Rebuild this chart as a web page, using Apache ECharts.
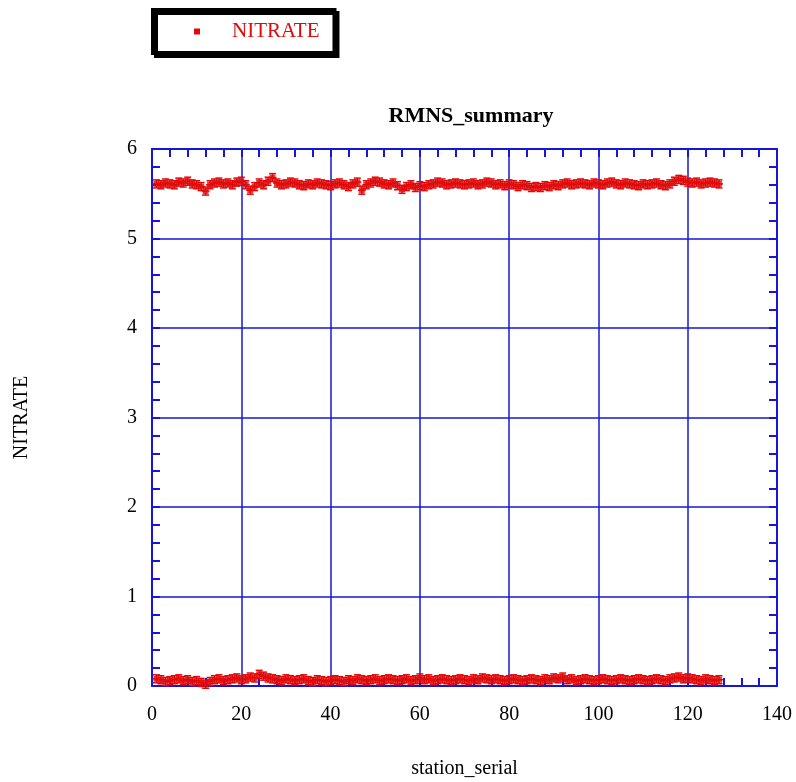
<!DOCTYPE html>
<html>
<head>
<meta charset="utf-8">
<script src="https://cdn.jsdelivr.net/npm/echarts@6/dist/echarts.min.js"></script>
<style>
  html, body { margin: 0; padding: 0; background: #fff; }
  #chart { width: 796px; height: 782px; }
</style>
</head>
<body>
<div id="chart"></div>
<script>
// nitrate at each station: upper band and lower band
const highValues = [
  5.61, 5.60, 5.62, 5.61, 5.60, 5.63, 5.62, 5.64, 5.61, 5.60,
  5.58, 5.53, 5.60, 5.62, 5.63, 5.61, 5.62, 5.60, 5.63, 5.64,
  5.60, 5.54, 5.58, 5.62, 5.60, 5.64, 5.68, 5.62, 5.60, 5.61,
  5.63, 5.62, 5.60, 5.59, 5.61, 5.60, 5.62, 5.61, 5.60, 5.59,
  5.61, 5.62, 5.60, 5.58, 5.61, 5.63, 5.54, 5.60, 5.62, 5.64,
  5.63, 5.61, 5.60, 5.62, 5.59, 5.55, 5.58, 5.60, 5.57, 5.59,
  5.58, 5.60, 5.61, 5.63, 5.62, 5.60, 5.61, 5.62, 5.61, 5.60,
  5.61, 5.62, 5.60, 5.61, 5.63, 5.62, 5.60, 5.61, 5.59, 5.61,
  5.60, 5.58, 5.60, 5.59, 5.57, 5.58, 5.57, 5.59, 5.58, 5.60,
  5.59, 5.61, 5.62, 5.60, 5.61, 5.62, 5.61, 5.60, 5.62, 5.61,
  5.60, 5.62, 5.63, 5.61, 5.60, 5.62, 5.61, 5.60, 5.59, 5.61,
  5.60, 5.61, 5.62, 5.60, 5.59, 5.61, 5.64, 5.66, 5.65, 5.63,
  5.62, 5.63, 5.61, 5.62, 5.63, 5.62, 5.61
]
const lowValues = [
  0.08, 0.07, 0.05, 0.06, 0.07, 0.08, 0.06, 0.07, 0.05, 0.06,
  0.04, 0.02, 0.05, 0.07, 0.08, 0.06, 0.07, 0.08, 0.09, 0.07,
  0.08, 0.10, 0.09, 0.13, 0.11, 0.09, 0.08, 0.07, 0.06, 0.08,
  0.07, 0.06, 0.07, 0.08, 0.06, 0.05, 0.07, 0.06, 0.05, 0.06,
  0.07, 0.06, 0.05, 0.07, 0.06, 0.08, 0.07, 0.06, 0.07, 0.08,
  0.06, 0.07, 0.08, 0.07, 0.06, 0.07, 0.08, 0.06, 0.07, 0.09,
  0.07, 0.08, 0.06, 0.07, 0.08, 0.07, 0.06, 0.07, 0.08, 0.07,
  0.06, 0.08, 0.07, 0.09, 0.08, 0.07, 0.08, 0.07, 0.06, 0.07,
  0.08, 0.07, 0.06, 0.07, 0.08, 0.07, 0.06, 0.08, 0.07, 0.09,
  0.08, 0.10, 0.07, 0.08, 0.06, 0.07, 0.08, 0.07, 0.06, 0.07,
  0.08, 0.07, 0.06, 0.07, 0.08, 0.07, 0.06, 0.07, 0.08, 0.07,
  0.06, 0.07, 0.08, 0.07, 0.06, 0.08, 0.09, 0.10, 0.08, 0.09,
  0.08, 0.07, 0.06, 0.08, 0.07, 0.06, 0.07
]
const stations = highValues.map((_, i) => i + 1)
const yError = 0.045   // vertical error bar half-length
const xError = 0.9     // horizontal error bar half-length (stations)

const xTicks = [0, 20, 40, 60, 80, 100, 120, 140]
const yTicks = [0, 1, 2, 3, 4, 5, 6]

const BLUE = '#1616d8'
const RED = '#e00a0a'
const FONT = '"Liberation Serif", "Times New Roman", serif'

const points = []
stations.forEach((s, i) => {
  points.push([s, highValues[i]])
  points.push([s, lowValues[i]])
})

const chart = echarts.init(document.getElementById('chart'))

const tickStyle = { color: BLUE, width: 2 }

const frameAxis = (extra) => Object.assign({
  type: 'value',
  axisLabel: { show: false },
  splitLine: { show: false },
  axisLine: { show: true, onZero: false, lineStyle: tickStyle },
  axisTick: { show: true, inside: true, length: 8, lineStyle: tickStyle },
  minorTick: { show: true, splitNumber: 5, length: 8, lineStyle: tickStyle },
}, extra)

chart.setOption({
  animation: false,
  title: {
    text: 'RMNS_summary',
    left: 466,
    top: 100,
    textAlign: 'center',
    textStyle: { fontFamily: FONT, fontSize: 22, fontWeight: 'bold', color: '#000' },
  },
  legend: {
    left: 153,
    top: 10,
    data: ['NITRATE'],
    icon: 'rect',
    itemWidth: 6,
    itemHeight: 6,
    padding: [11, 15, 11, 41],
    borderColor: '#000',
    borderWidth: 4,
    shadowColor: '#000',
    shadowOffsetX: 3,
    shadowOffsetY: 3,
    shadowBlur: 0,
    backgroundColor: '#fff',
    textStyle: { fontFamily: FONT, fontSize: 21, color: RED, padding: [0, 0, 0, 27] },
  },
  grid: { left: 152, right: 19, top: 149, bottom: 96, outerBoundsMode: 'none', containLabel: false },
  xAxis: [
    frameAxis({
      min: xTicks[0], max: xTicks[xTicks.length - 1], interval: 20,
      name: 'station_serial', nameLocation: 'middle', nameGap: 73,
      nameTextStyle: { fontFamily: FONT, fontSize: 20, color: '#000' },
      axisLabel: { show: true, fontFamily: FONT, fontSize: 20, color: '#000', margin: 19 },
      splitLine: { show: true, lineStyle: { color: BLUE, width: 1.5 } },
    }),
    frameAxis({ position: 'top', min: 0, max: 140, interval: 20 }),
  ],
  yAxis: [
    frameAxis({
      min: yTicks[0], max: yTicks[yTicks.length - 1], interval: 1,
      name: 'NITRATE', nameLocation: 'middle', nameGap: 120, nameRotate: 90,
      nameTextStyle: { fontFamily: FONT, fontSize: 20, color: '#000' },
      axisLabel: { show: true, fontFamily: FONT, fontSize: 20, color: '#000', margin: 15 },
      splitLine: { show: true, lineStyle: { color: BLUE, width: 1.5 } },
    }),
    frameAxis({ position: 'right', min: 0, max: 6, interval: 1 }),
  ],
  series: [
    {
      name: 'NITRATE',
      type: 'custom',
      data: points,
      renderItem: (params, api) => {
        const x = api.value(0)
        const y = api.value(1)
        const top = api.coord([x, y + yError])
        const bot = api.coord([x, y - yError])
        const left = api.coord([x - xError, y])
        const right = api.coord([x + xError, y])
        const cap = 3.5
        const style = { stroke: RED, lineWidth: 1.5 }
        return {
          type: 'group',
          children: [
            { type: 'line', shape: { x1: top[0], y1: top[1], x2: bot[0], y2: bot[1] }, style },
            { type: 'line', shape: { x1: left[0], y1: left[1], x2: right[0], y2: right[1] }, style },
            { type: 'line', shape: { x1: top[0] - cap, y1: top[1], x2: top[0] + cap, y2: top[1] }, style },
            { type: 'line', shape: { x1: bot[0] - cap, y1: bot[1], x2: bot[0] + cap, y2: bot[1] }, style },
          ],
        }
      },
      itemStyle: { color: RED },
      z: 5,
    },
    {
      name: 'NITRATE',
      type: 'scatter',
      data: points,
      symbol: 'rect',
      symbolSize: 6,
      itemStyle: { color: RED },
      z: 6,
    },
  ],
})
</script>
</body>
</html>
